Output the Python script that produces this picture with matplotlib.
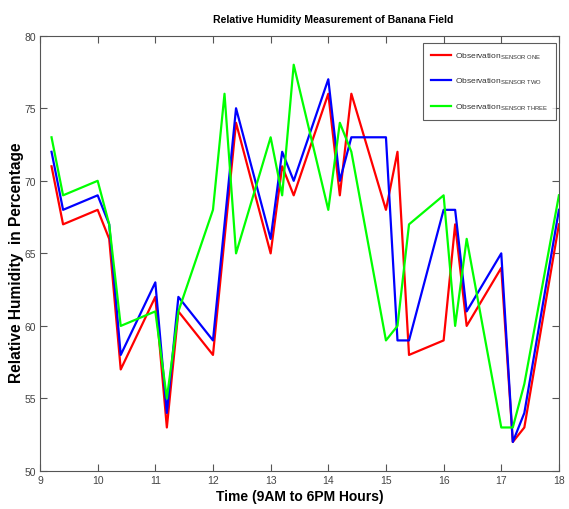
import matplotlib
matplotlib.use("Agg")
import matplotlib.pyplot as plt

# time of each reading (hours)
hours = [9.2, 9.4, 10, 10.2, 10.4, 11, 11.2, 11.4, 12, 12.2, 12.4, 13, 13.2, 13.4,
         14, 14.2, 14.4, 15, 15.2, 15.4, 16, 16.2, 16.4, 17, 17.2, 17.4, 18]

sensor_one = [71, 67, 68, 66, 57, 62, 53, 61, 58, 66, 74, 65, 71, 69,
              76, 69, 76, 68, 72, 58, 59, 67, 60, 64, 52, 53, 67]
sensor_two = [72, 68, 69, 67, 58, 63, 54, 62, 59, 67, 75, 66, 72, 70,
              77, 70, 73, 73, 59, 59, 68, 68, 61, 65, 52, 54, 68]
sensor_three = [73, 69, 70, 67, 60, 61, 55, 61, 68, 76, 65, 73, 69, 78,
                68, 74, 72, 59, 60, 67, 69, 60, 66, 53, 53, 56, 69]

series = [
    (sensor_one, "SENSOR\\ ONE", "#ff0000"),
    (sensor_two, "SENSOR\\ TWO", "#0000ff"),
    (sensor_three, "SENSOR\\ THREE", "#00ff00"),
]

plt.rcParams["font.family"] = ["Liberation Sans", "DejaVu Sans"]
plt.rcParams["mathtext.fontset"] = "custom"
plt.rcParams["mathtext.rm"] = "Liberation Sans"
plt.rcParams["mathtext.it"] = "Liberation Sans"

fig = plt.figure(figsize=(5.69, 5.10), dpi=100)
ax = fig.add_axes([0.0703, 0.0745, 0.912, 0.8535])

for values, name, color in series:
    ax.plot(hours, values, color=color, linewidth=1.6,
            label=r"Observation$_{\mathrm{%s}}$" % name)

ax.set_xlim(9, 18)
ax.set_ylim(50, 80)
ax.set_xticks(range(9, 19))
ax.set_yticks(range(50, 81, 5))
ax.tick_params(direction="in", length=5, top=True, right=True,
               labelsize=7.5, colors="#555555", labelcolor="#444444", pad=3)
for sp in ax.spines.values():
    sp.set_color("#555555")
    sp.set_linewidth(0.8)

ax.set_title("Relative Humidity Measurement of Banana Field",
             fontsize=7.6, fontweight="bold", pad=10, x=0.565)
ax.set_xlabel("Time (9AM to 6PM Hours)", fontsize=10, fontweight="bold", labelpad=3)
ax.set_ylabel("Relative Humidity  in Percentage", fontsize=11.2, fontweight="bold")
ax.yaxis.set_label_coords(-0.03, 0.48)

leg = ax.legend(loc="upper right", fontsize=6, frameon=True, fancybox=False,
                handlelength=2.4, handletextpad=0.45, borderpad=1.0, labelspacing=1.8,
                borderaxespad=0, bbox_to_anchor=(0.995, 0.984))
leg.get_frame().set_edgecolor("#333333")
leg.get_frame().set_linewidth(0.8)
for t in leg.get_texts():
    t.set_color("#333333")

fig.savefig("out.png", dpi=100)
